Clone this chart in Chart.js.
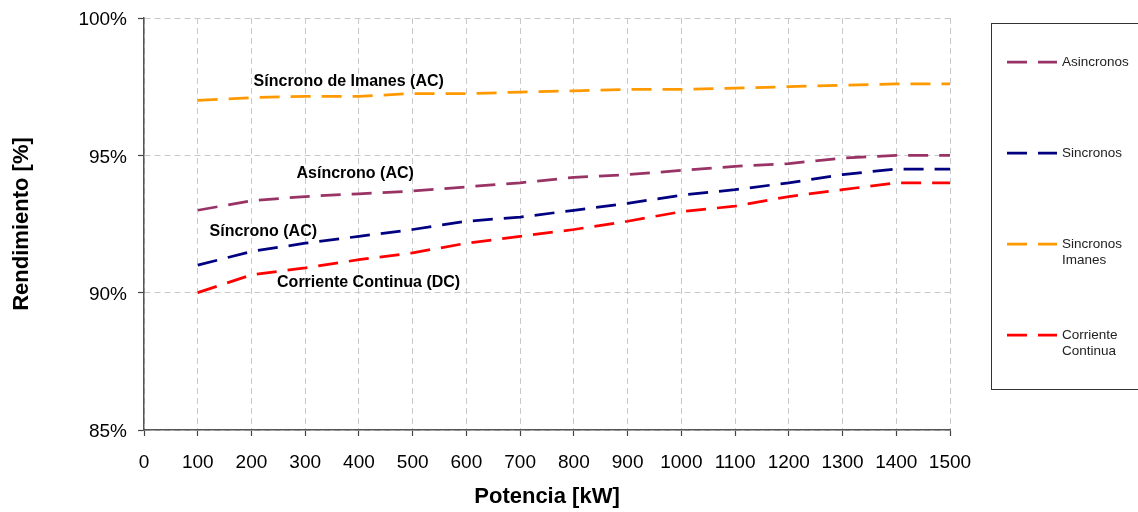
<!DOCTYPE html>
<html>
<head>
<meta charset="utf-8">
<title>Rendimiento vs Potencia</title>
<script src="https://cdn.jsdelivr.net/npm/chart.js@4.4.0/dist/chart.umd.min.js"></script>
<style>
  html, body { margin: 0; padding: 0; background: #fff; }
</style>
</head>
<body>
<canvas id="rendChart" width="1138" height="512"></canvas>
<script>
// Datos
const potencias = [100, 200, 300, 400, 500, 600, 700, 800, 900, 1000, 1100, 1200, 1300, 1400, 1500];
const asincronos = [93.0, 93.35, 93.5, 93.6, 93.7, 93.85, 94.0, 94.2, 94.3, 94.45, 94.6, 94.7, 94.9, 95.0, 95.0];
const sincronos = [91.0, 91.5, 91.8, 92.05, 92.3, 92.6, 92.75, 93.0, 93.25, 93.55, 93.75, 94.0, 94.3, 94.5, 94.5];
const sincronosImanes = [97.0, 97.1, 97.15, 97.15, 97.25, 97.25, 97.3, 97.35, 97.4, 97.4, 97.45, 97.5, 97.55, 97.6, 97.6];
const corrienteContinua = [90.0, 90.65, 90.9, 91.2, 91.45, 91.8, 92.05, 92.3, 92.6, 92.95, 93.15, 93.5, 93.75, 94.0, 94.0];

const seriesNames = ['Asincronos', 'Sincronos', ['Sincronos', 'Imanes'], ['Corriente', 'Continua']];
const seriesColors = ['#993366', '#000080', '#FF9900', '#FF0000'];

// Etiquetas dentro del gráfico (posición en unidades de datos)
const notaTextos = ['Síncrono de Imanes (AC)', 'Asíncrono (AC)', 'Síncrono (AC)', 'Corriente Continua (DC)'];
const notaX = [381, 393, 222, 418];
const notaY = [97.69, 94.33, 92.22, 90.38];

const FONT = '"Liberation Sans", Arial, sans-serif';

function toPoints(values) {
    return values.map((v, i) => ({ x: potencias[i], y: v }));
}

// Plugin para las etiquetas de las curvas
const notasPlugin = {
    id: 'notas',
    afterDatasetsDraw(chart) {
        const { ctx, scales: { x, y } } = chart;
        ctx.save();
        ctx.font = 'bold 16px ' + FONT;
        ctx.fillStyle = '#000';
        ctx.textAlign = 'center';
        ctx.textBaseline = 'middle';
        notaTextos.forEach((t, i) => {
            ctx.fillText(t, x.getPixelForValue(notaX[i]), y.getPixelForValue(notaY[i]));
        });
        ctx.restore();
    }
};

// Plugin para la leyenda con recuadro
const leyendaPlugin = {
    id: 'leyenda',
    afterDraw(chart) {
        const { ctx } = chart;
        const boxLeft = 991, boxTop = 23, boxBottom = 389;
        ctx.save();
        ctx.strokeStyle = '#333';
        ctx.lineWidth = 1;
        ctx.strokeRect(boxLeft + 0.5, boxTop + 0.5, 200, boxBottom - boxTop);
        chart.data.datasets.forEach((ds, i) => {
            const yc = boxTop + 39 + i * 91;
            ctx.strokeStyle = ds.borderColor;
            ctx.lineWidth = ds.borderWidth;
            ctx.setLineDash(ds.borderDash);
            ctx.beginPath();
            ctx.moveTo(1007, yc);
            ctx.lineTo(1057, yc);
            ctx.stroke();
            ctx.setLineDash([]);
            ctx.fillStyle = '#222';
            ctx.font = '13.5px ' + FONT;
            ctx.textAlign = 'left';
            ctx.textBaseline = 'middle';
            const lines = Array.isArray(seriesNames[i]) ? seriesNames[i] : [seriesNames[i]];
            lines.forEach((l, k) => ctx.fillText(l, 1062, yc + k * 16));
        });
        ctx.restore();
    }
};

const datos = [asincronos, sincronos, sincronosImanes, corrienteContinua];

new Chart(document.getElementById('rendChart').getContext('2d'), {
    type: 'line',
    data: {
        datasets: datos.map((d, i) => ({
            label: Array.isArray(seriesNames[i]) ? seriesNames[i].join(' ') : seriesNames[i],
            data: toPoints(d),
            borderColor: seriesColors[i],
            backgroundColor: seriesColors[i],
            borderWidth: 2.75,
            borderDash: [20, 11],
            pointRadius: 0,
            tension: 0,
            fill: false
        }))
    },
    options: {
        responsive: false,
        animation: false,
        layout: { padding: { left: 0, right: 188, top: 18, bottom: 0 } },
        plugins: {
            legend: { display: false },
            tooltip: { enabled: false }
        },
        scales: {
            x: {
                type: 'linear',
                min: 0,
                max: 1500,
                ticks: { stepSize: 100, color: '#000', font: { family: FONT, size: 19 }, padding: 15, maxRotation: 0, autoSkip: false, callback: v => String(v) },
                grid: { color: '#c8c8c8', lineWidth: 1, tickColor: '#444', tickLength: 6, tickWidth: 1.2 },
                border: { color: '#555', width: 1.5, dash: [6, 4] },
                title: { display: true, text: 'Potencia [kW]', color: '#000', font: { family: FONT, size: 22, weight: 'bold' }, padding: { top: 0, bottom: 2 } },
                afterFit: scale => { scale.height = 82; }
            },
            y: {
                min: 85,
                max: 100,
                ticks: { stepSize: 5, color: '#000', font: { family: FONT, size: 19 }, padding: 11, labelOffset: 2, callback: v => v + '%' },
                grid: { color: '#c8c8c8', lineWidth: 1, tickColor: '#444', tickLength: 6, tickWidth: 1.2 },
                border: { color: '#555', width: 1.5, dash: [6, 4] },
                title: { display: true, text: 'Rendimiento [%]', color: '#000', font: { family: FONT, size: 22, weight: 'bold' }, padding: { top: 9, bottom: 0 } },
                afterFit: scale => {
                    scale.width = 144;
                    scale.paddingTop = 0;
                    scale.paddingBottom = 0;
                }
            }
        }
    },
    plugins: [notasPlugin, leyendaPlugin]
});
</script>
</body>
</html>
